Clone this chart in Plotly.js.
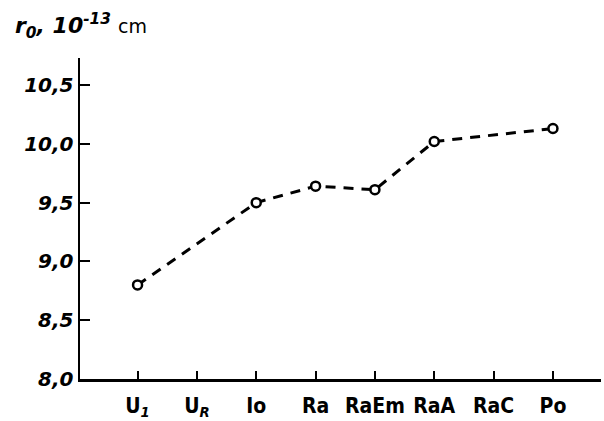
<!DOCTYPE html>
<html>
<head>
<meta charset="utf-8">
<script src="https://cdn.plot.ly/plotly-3.0.1.min.js"></script>
<style>html,body{margin:0;padding:0;background:#fff;}#chart{width:604px;height:421px;}</style>
</head>
<body>
<div id="chart"></div>
<script>
// Data
var categories = ["U1", "UR", "Io", "Ra", "RaEm", "RaA", "RaC", "Po"];
var categoryLabels = ["U<sub><i>1</i></sub>", "U<sub><i>R</i></sub>", "Io", "Ra", "RaEm", "RaA", "RaC", "Po"];
var radiusValues = [8.8, null, 9.5, 9.64, 9.61, 10.02, null, 10.13];
var yTickValues = [8.0, 8.5, 9.0, 9.5, 10.0, 10.5];
var yTickLabels = ["8,0", "8,5", "9,0", "9,5", "10,0", "10,5"];

var trace = {
  x: categories,
  y: radiusValues,
  type: "scatter",
  mode: "lines+markers",
  connectgaps: true,
  line: {color: "#000", width: 3, dash: "10px,8px"},
  marker: {symbol: "circle", size: 9, color: "#fff", line: {color: "#000", width: 2.5}},
  hoverinfo: "skip"
};

var layout = {
  width: 604,
  height: 421,
  margin: {l: 80, r: 3, t: 58, b: 42},
  paper_bgcolor: "#fff",
  plot_bgcolor: "#fff",
  showlegend: false,
  xaxis: {
    type: "category",
    categoryorder: "array",
    categoryarray: categories,
    tickvals: categories,
    ticktext: categoryLabels,
    range: [-0.97, 7.81],
    showline: true,
    linecolor: "#000",
    linewidth: 2.5,
    ticks: "inside",
    ticklen: 8,
    tickwidth: 2,
    tickcolor: "#000",
    showgrid: false,
    zeroline: false,
    ticklabelstandoff: 6,
    tickfont: {family: "DejaVu Sans Condensed, DejaVu Sans", size: 21, color: "#000", weight: "bold"}
  },
  yaxis: {
    range: [8.0, 10.73],
    tickvals: yTickValues,
    ticktext: yTickLabels,
    showline: true,
    linecolor: "#000",
    linewidth: 2.5,
    ticks: "inside",
    ticklen: 10,
    tickwidth: 2,
    tickcolor: "#000",
    showgrid: false,
    zeroline: false,
    tickfont: {family: "DejaVu Sans", size: 20, color: "#000", style: "italic", weight: "bold"}
  },
  annotations: [{
    xref: "paper", yref: "paper",
    x: -0.128, y: 1.0,
    xanchor: "left", yanchor: "bottom",
    yshift: 14,
    showarrow: false,
    text: "<i><b>r<sub>0</sub>, 10<sup>-13</sup></b></i> <span style='font-size:19px'>cm</span>",
    font: {family: "DejaVu Sans", size: 22, color: "#000"}
  }]
};

Plotly.newPlot("chart", [trace], layout, {displayModeBar: false, staticPlot: true});
</script>
</body>
</html>
